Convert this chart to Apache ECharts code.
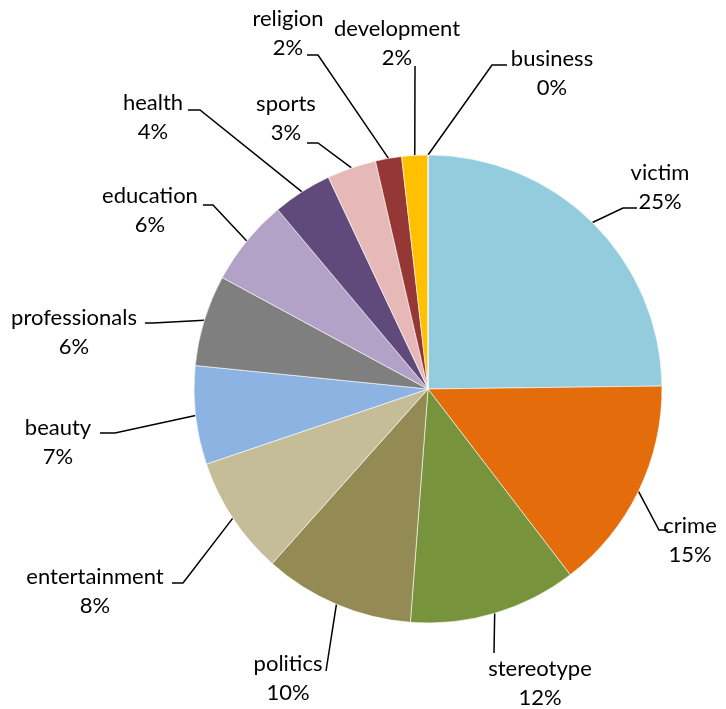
<!DOCTYPE html>
<html>
<head>
<meta charset="utf-8">
<script src="https://cdn.jsdelivr.net/npm/echarts@6/dist/echarts.min.js"></script>
<style>
  html, body { margin: 0; padding: 0; background: #fff; }
  #chart { width: 726px; height: 709px; }
</style>
</head>
<body>
<div id="chart"></div>
<script>
// Share of articles by topic (percent)
const categories = ['victim', 'crime', 'stereotype', 'politics', 'entertainment', 'beauty',
  'professionals', 'education', 'health', 'sports', 'religion', 'development', 'business'];
const shares = [24.8, 14.8, 11.6, 10.4, 8.2, 6.8, 6.3, 6.0, 4.1, 3.4, 1.8, 1.8, 0];

const sliceColors = ['#93CDDD', '#E46C0A', '#77933C', '#948A54', '#C4BD97', '#8DB3E2',
  '#7F7F7F', '#B3A2C7', '#604A7B', '#E6B9B8', '#953735', '#FFC000', '#4BACC6'];

// Label placement: [text centre x, text centre y, elbow x, elbow y, end x, end y]
const labelPlacement = [
  [660, 187, 623, 208, 637, 208],
  [690, 540, 659, 530, 668, 530],
  [540, 683, 494, 653, 494, 653],
  [288, 678, 326, 671, 326, 671],
  [95, 591, 183, 583, 172, 583],
  [58, 442, 115, 433, 100, 433],
  [74, 332, 153, 323, 145, 323],
  [150, 210, 213, 205, 203, 205],
  [153, 117, 200, 110, 188, 110],
  [286, 118, 318, 143, 307, 143],
  [288, 33, 318, 55, 307, 55],
  [397, 43, 415, 66, 415, 66],
  [552, 73, 492, 65, 507, 65]
];

const chart = echarts.init(document.getElementById('chart'), null, { renderer: 'canvas' });

chart.setOption({
  animation: false,
  series: [{
    type: 'pie',
    center: [428, 389],
    radius: 234,
    startAngle: 90,
    clockwise: true,
    avoidLabelOverlap: false,
    minShowLabelAngle: 0,
    data: categories.map((name, i) => ({
      name,
      value: shares[i],
      itemStyle: { color: sliceColors[i] }
    })),
    itemStyle: { borderColor: '#ffffff', borderWidth: 0.6 },
    label: {
      show: true,
      position: 'outer',
      alignTo: 'none',
      formatter: p => p.name + '\n' + Math.round(p.percent) + '%',
      fontFamily: 'Lato',
      fontSize: 22,
      lineHeight: 29,
      color: '#000',
      align: 'center'
    },
    labelLine: {
      show: true,
      length: 20,
      length2: 10,
      lineStyle: { color: '#000', width: 1.5 }
    },
    labelLayout: function (params) {
      const spec = labelPlacement[params.dataIndex];
      const start = params.labelLinePoints ? params.labelLinePoints[0] : [spec[2], spec[3]];
      return {
        x: spec[0],
        y: spec[1],
        align: 'center',
        verticalAlign: 'middle',
        labelLinePoints: [start, [spec[2], spec[3]], [spec[4], spec[5]]]
      };
    },
    emphasis: { disabled: true }
  }]
});
</script>
</body>
</html>
